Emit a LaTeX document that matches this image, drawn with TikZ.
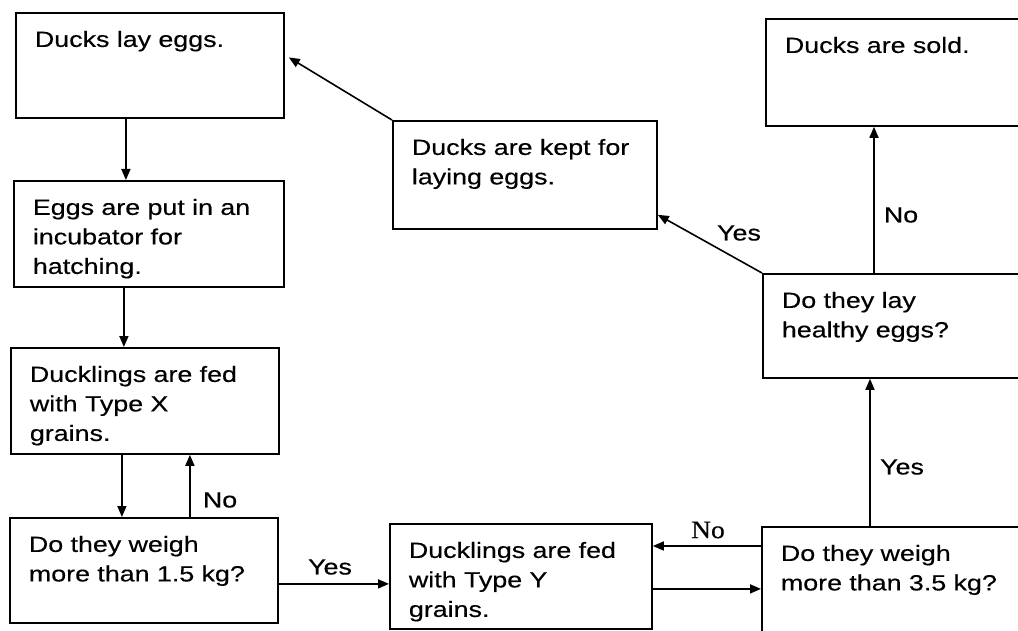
\documentclass[tikz,border=0pt]{standalone}
\usepackage{fontspec}
\setmainfont{Liberation Sans}[FakeStretch=1.22,FakeBold=0.4]
\newfontfamily\timesfont{Liberation Serif}[FakeStretch=1.1,FakeBold=0.4]
\usetikzlibrary{arrows.meta,positioning}

\begin{document}
\begin{tikzpicture}[
    x=1pt, y=-1pt,
    font=\fontsize{22}{29.5}\selectfont,
    stage/.style 2 args={draw,line width=1.8pt,anchor=north west,align=left,
        inner xsep=19pt,inner ysep=18pt,text height=16pt,
        text width=#1pt-38pt,text depth=#2pt-52pt},
    flow/.style={line width=1.6pt,-{Triangle[length=11pt,width=9pt]}},
    lbl/.style={inner sep=0pt}]
\clip (0,0) rectangle (1018,631);

% boxes, top left corner given
\node[stage={268}{105}] (lay)     at (15,12)   {Ducks lay eggs.};
\node[stage={270}{106}] (incub)   at (13,180)  {Eggs are put in an\\incubator for\\hatching.};
\node[stage={268}{106}] (feedX)   at (10,347)  {Ducklings are fed\\with Type X\\grains.};
\node[stage={268}{105}] (weighA)  at (9,517)   {Do they weigh\\more than 1.5 kg?};
\node[stage={262}{105}] (feedY)   at (389,523) {Ducklings are fed\\with Type Y\\grains.};
\node[stage={300}{115}] (weighB)  at (761,526) {Do they weigh\\more than 3.5 kg?};
\node[stage={300}{104}] (healthy) at (762,273) {Do they lay\\healthy eggs?};
\node[stage={300}{107}] (sold)    at (765,18)  {Ducks are sold.};
\node[stage={264}{108}] (kept)    at (392,120) {Ducks are kept for\\laying eggs.};

% left column
\draw[flow] ([xshift=-24pt]lay.south) -- ([xshift=-24pt]lay.south |- incub.north);
\draw[flow] ([xshift=-25pt]incub.south) -- ([xshift=-25pt]incub.south |- feedX.north);
\draw[flow] ([xshift=-23pt]feedX.south) -- ([xshift=-23pt]feedX.south |- weighA.north);
\draw[flow] ([xshift=46pt]weighA.north) -- ([xshift=46pt]weighA.north |- feedX.south);
\node[lbl] (noA) at (220,500) {No};

% bottom row
\draw[flow] ([yshift=-13.5pt]weighA.east) -- ([yshift=-13.5pt]weighA.east -| feedY.west);
\node[lbl] (yesA) at (330,567) {Yes};
\draw[flow] ([yshift=-12.5pt]feedY.east) -- ([yshift=-12.5pt]feedY.east -| weighB.west);
\draw[flow] ([yshift=-20pt]weighB.north west) -- ([yshift=-20pt]weighB.north west -| feedY.east);
\node[lbl,font=\timesfont\fontsize{25}{25}\selectfont] (noB) at (708,530) {No};

% right column
\draw[flow] ([xshift=109pt]weighB.north west) -- ([xshift=109pt]weighB.north west |- healthy.south);
\node[lbl] (yesB) at (902,467) {Yes};
\draw[flow] ([xshift=112pt]healthy.north west) -- ([xshift=112pt]healthy.north west |- sold.south);
\node[lbl] (noC) at (901,215) {No};

% back to laying
\draw[flow] (healthy.north west) -- ([yshift=15pt]kept.south east);
\node[lbl] (yesC) at (739,233) {Yes};
\draw[flow] (kept.north west) -- ([xshift=4pt,yshift=8pt]lay.east);
\end{tikzpicture}
\end{document}
